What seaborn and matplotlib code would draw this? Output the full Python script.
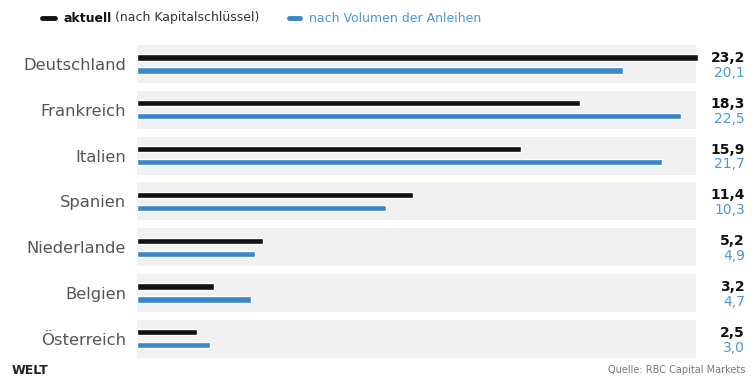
import matplotlib
matplotlib.use("Agg")
import matplotlib.pyplot as plt
import matplotlib.transforms as mtransforms
import seaborn as sns
import pandas as pd

countries = ["Deutschland", "Frankreich", "Italien", "Spanien",
             "Niederlande", "Belgien", "Österreich"]
aktuell = [23.2, 18.3, 15.9, 11.4, 5.2, 3.2, 2.5]
volumen = [20.1, 22.5, 21.7, 10.3, 4.9, 4.7, 3.0]
series_names = ["aktuell (nach Kapitalschlüssel)", "nach Volumen der Anleihen"]

BLACK = "#111111"
BLUE = "#3a86c8"
BLUE_TXT = "#4a98d6"
GRAY_TXT = "#555555"

df = pd.DataFrame({
    "Land": countries * 2,
    "Wert": aktuell + volumen,
    "Serie": [series_names[0]] * len(countries) + [series_names[1]] * len(countries),
})

sns.set_theme(style="white")
plt.rcParams["font.family"] = ["DejaVu Sans"]

W, H = 754, 379
fig = plt.figure(figsize=(W / 100, H / 100), dpi=100)
left_px, right_px = 137, 698
top_px, row_px = 41.1, 45.8
bottom_px = top_px + 7 * row_px
ax = fig.add_axes([left_px / W, (H - bottom_px) / H,
                   (right_px - left_px) / W, (bottom_px - top_px) / H])

# background bands
for i in range(len(countries)):
    ax.axhspan(i - 0.415, i + 0.415, xmin=0, xmax=(696 - left_px) / (right_px - left_px),
               color="#f1f1f1", zorder=0, lw=0)

sns.barplot(data=df, y="Land", x="Wert", hue="Serie", orient="h",
            palette=[BLACK, BLUE], width=0.57, gap=0.52, ax=ax,
            legend=False, zorder=2, saturation=1)

ax.set_xlim(0, max(aktuell))
ax.set_ylim(len(countries) - 0.5, -0.5)
ax.set_xlabel("")
ax.set_ylabel("")
ax.set_xticks([])
for s in ax.spines.values():
    s.set_visible(False)
ax.tick_params(axis="y", length=0, pad=8, labelsize=11.8, labelcolor=GRAY_TXT)

# value labels
trans = mtransforms.blended_transform_factory(fig.transFigure, ax.transData)
for i, (a, v) in enumerate(zip(aktuell, volumen)):
    ax.text(745 / W, i - 0.13, f"{a:.1f}".replace(".", ","), transform=trans,
            ha="right", va="center", fontsize=10, fontweight="bold", color=BLACK)
    ax.text(745 / W, i + 0.19, f"{v:.1f}".replace(".", ","), transform=trans,
            ha="right", va="center", fontsize=10, color=BLUE_TXT)

# legend
ly = 1 - 18 / H
fig.add_artist(plt.Line2D([42 / W, 55 / W], [ly, ly], color=BLACK, lw=3.5,
                          transform=fig.transFigure))
t1 = fig.text(63 / W, ly, "aktuell", ha="left", va="center", fontsize=9,
              fontweight="bold", color=BLACK)
plt.annotate(" (nach Kapitalschlüssel)", xy=(1, 0.5), xycoords=t1,
             ha="left", va="center", fontsize=9, color="#333333",
             annotation_clip=False)
fig.add_artist(plt.Line2D([289 / W, 300 / W], [ly, ly], color=BLUE, lw=3.5,
                          transform=fig.transFigure))
fig.text(309 / W, ly, "nach Volumen der Anleihen", ha="left", va="center",
         fontsize=9, color=BLUE_TXT)

# footer
fig.text(12 / W, 1 - 370 / H, "WELT", ha="left", va="center", fontsize=9,
         fontweight="bold", color="#222222")
fig.text(745 / W, 1 - 370 / H, "Quelle: RBC Capital Markets", ha="right",
         va="center", fontsize=7, color="#777777")

fig.savefig("out.png", dpi=100, facecolor="white")
